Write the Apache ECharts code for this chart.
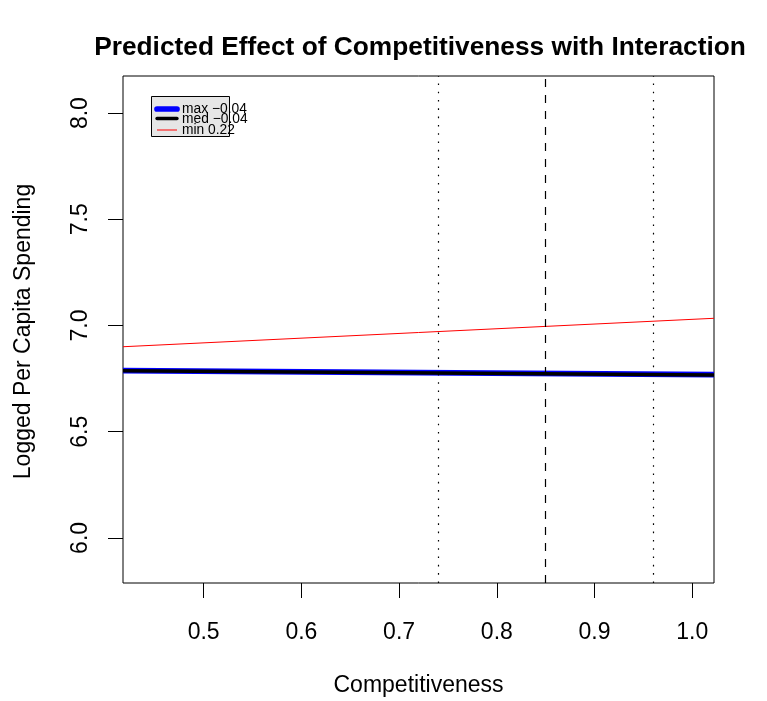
<!DOCTYPE html>
<html><head><meta charset="utf-8">
<script src="https://cdn.jsdelivr.net/npm/echarts@6/dist/echarts.min.js"></script>
<style>html,body{margin:0;padding:0;background:#fff}#c{width:767px;height:701px}</style>
</head><body><div id="c"></div>
<script>
var xRange = [0.4175, 1.0222];
var yRange = [5.7877, 8.1747];
var xTicks = [0.5, 0.6, 0.7, 0.8, 0.9, 1.0];
var yTicks = [6.0, 6.5, 7.0, 7.5, 8.0];
var maxLine = [[0.4175, 6.788], [1.0222, 6.769]];
var medLine = [[0.4175, 6.787], [1.0222, 6.767]];
var minLine = [[0.4175, 6.900], [1.0222, 7.034]];
var dottedX = [0.7431, 0.956];
var dashedX = [0.8511];
var legendLabels = ['max \u22120.04', 'med \u22120.04', 'min 0.22'];
var FONT = 'Liberation Sans, Arial, Helvetica, sans-serif';

var chart = echarts.init(document.getElementById('c'), null, {renderer: 'canvas'});
var vlines = [];
dottedX.forEach(function (v) { vlines.push({xAxis: v, lineStyle: {type: [1.6, 6.7], color: '#000', width: 1.2}}); });
dashedX.forEach(function (v) { vlines.push({xAxis: v, lineStyle: {type: [8, 8], color: '#000', width: 1.2}}); });

chart.setOption({
  animation: false,
  backgroundColor: '#fff',
  grid: {left: 123, right: 53, top: 76, bottom: 118, show: true, borderColor: '#000', borderWidth: 1, backgroundColor: 'transparent'},
  xAxis: {
    type: 'value', min: xRange[0], max: xRange[1],
    splitLine: {show: false},
    axisLine: {show: false},
    axisTick: {show: true, length: 15, inside: false, customValues: xTicks, lineStyle: {color: '#000', width: 1}},
    axisLabel: {show: true, customValues: xTicks, margin: 38, color: '#000', fontSize: 23, fontFamily: FONT,
      formatter: function (v) { return v.toFixed(1); }}
  },
  yAxis: {
    type: 'value', min: yRange[0], max: yRange[1],
    splitLine: {show: false},
    axisLine: {show: false},
    axisTick: {show: true, length: 15, inside: false, customValues: yTicks, lineStyle: {color: '#000', width: 1}},
    axisLabel: {show: true, customValues: yTicks, rotate: 90, margin: 31, color: '#000', fontSize: 23, fontFamily: FONT,
      formatter: function (v) { return v.toFixed(1); }}
  },
  series: [
    {type: 'line', data: minLine, symbol: 'none', silent: true, lineStyle: {color: '#ff0000', width: 1},
     markLine: {silent: true, symbol: 'none', label: {show: false}, data: vlines}},
    {type: 'line', data: maxLine, symbol: 'none', silent: true, lineStyle: {color: '#0000ff', width: 5.7}},
    {type: 'line', data: medLine, symbol: 'none', silent: true, lineStyle: {color: '#000000', width: 3.3}}
  ],
  graphic: [
    {type: 'text', style: {text: 'Predicted Effect of Competitiveness with Interaction', x: 420, y: 48,
      align: 'center', verticalAlign: 'middle', font: 'bold 26.3px ' + FONT, fill: '#000'}},
    {type: 'text', style: {text: 'Competitiveness', x: 418.5, y: 686, align: 'center', verticalAlign: 'middle', font: '23px ' + FONT, fill: '#000'}},
    {type: 'text', x: 24, y: 331.5, rotation: Math.PI / 2, style: {text: 'Logged Per Capita Spending', x: 0, y: 0, align: 'center', verticalAlign: 'middle', font: '23px ' + FONT, fill: '#000'}},
    {type: 'rect', shape: {x: 151.5, y: 96.5, width: 78, height: 40}, style: {fill: '#e6e6e6', stroke: '#000', lineWidth: 1}},
    {type: 'line', shape: {x1: 157, y1: 109, x2: 177, y2: 109}, style: {stroke: '#0000ff', lineWidth: 5.7, lineCap: 'round'}},
    {type: 'line', shape: {x1: 157, y1: 118.5, x2: 177, y2: 118.5}, style: {stroke: '#000', lineWidth: 3.3, lineCap: 'round'}},
    {type: 'line', shape: {x1: 157, y1: 130, x2: 177, y2: 130}, style: {stroke: '#ff0000', lineWidth: 1}},
    {type: 'text', style: {text: legendLabels[0], x: 182, y: 109, verticalAlign: 'middle', font: '13.8px ' + FONT, fill: '#000'}},
    {type: 'text', style: {text: legendLabels[1], x: 182, y: 119.5, verticalAlign: 'middle', font: '13.8px ' + FONT, fill: '#000'}},
    {type: 'text', style: {text: legendLabels[2], x: 182, y: 130.5, verticalAlign: 'middle', font: '13.8px ' + FONT, fill: '#000'}}
  ]
});
</script></body></html>
